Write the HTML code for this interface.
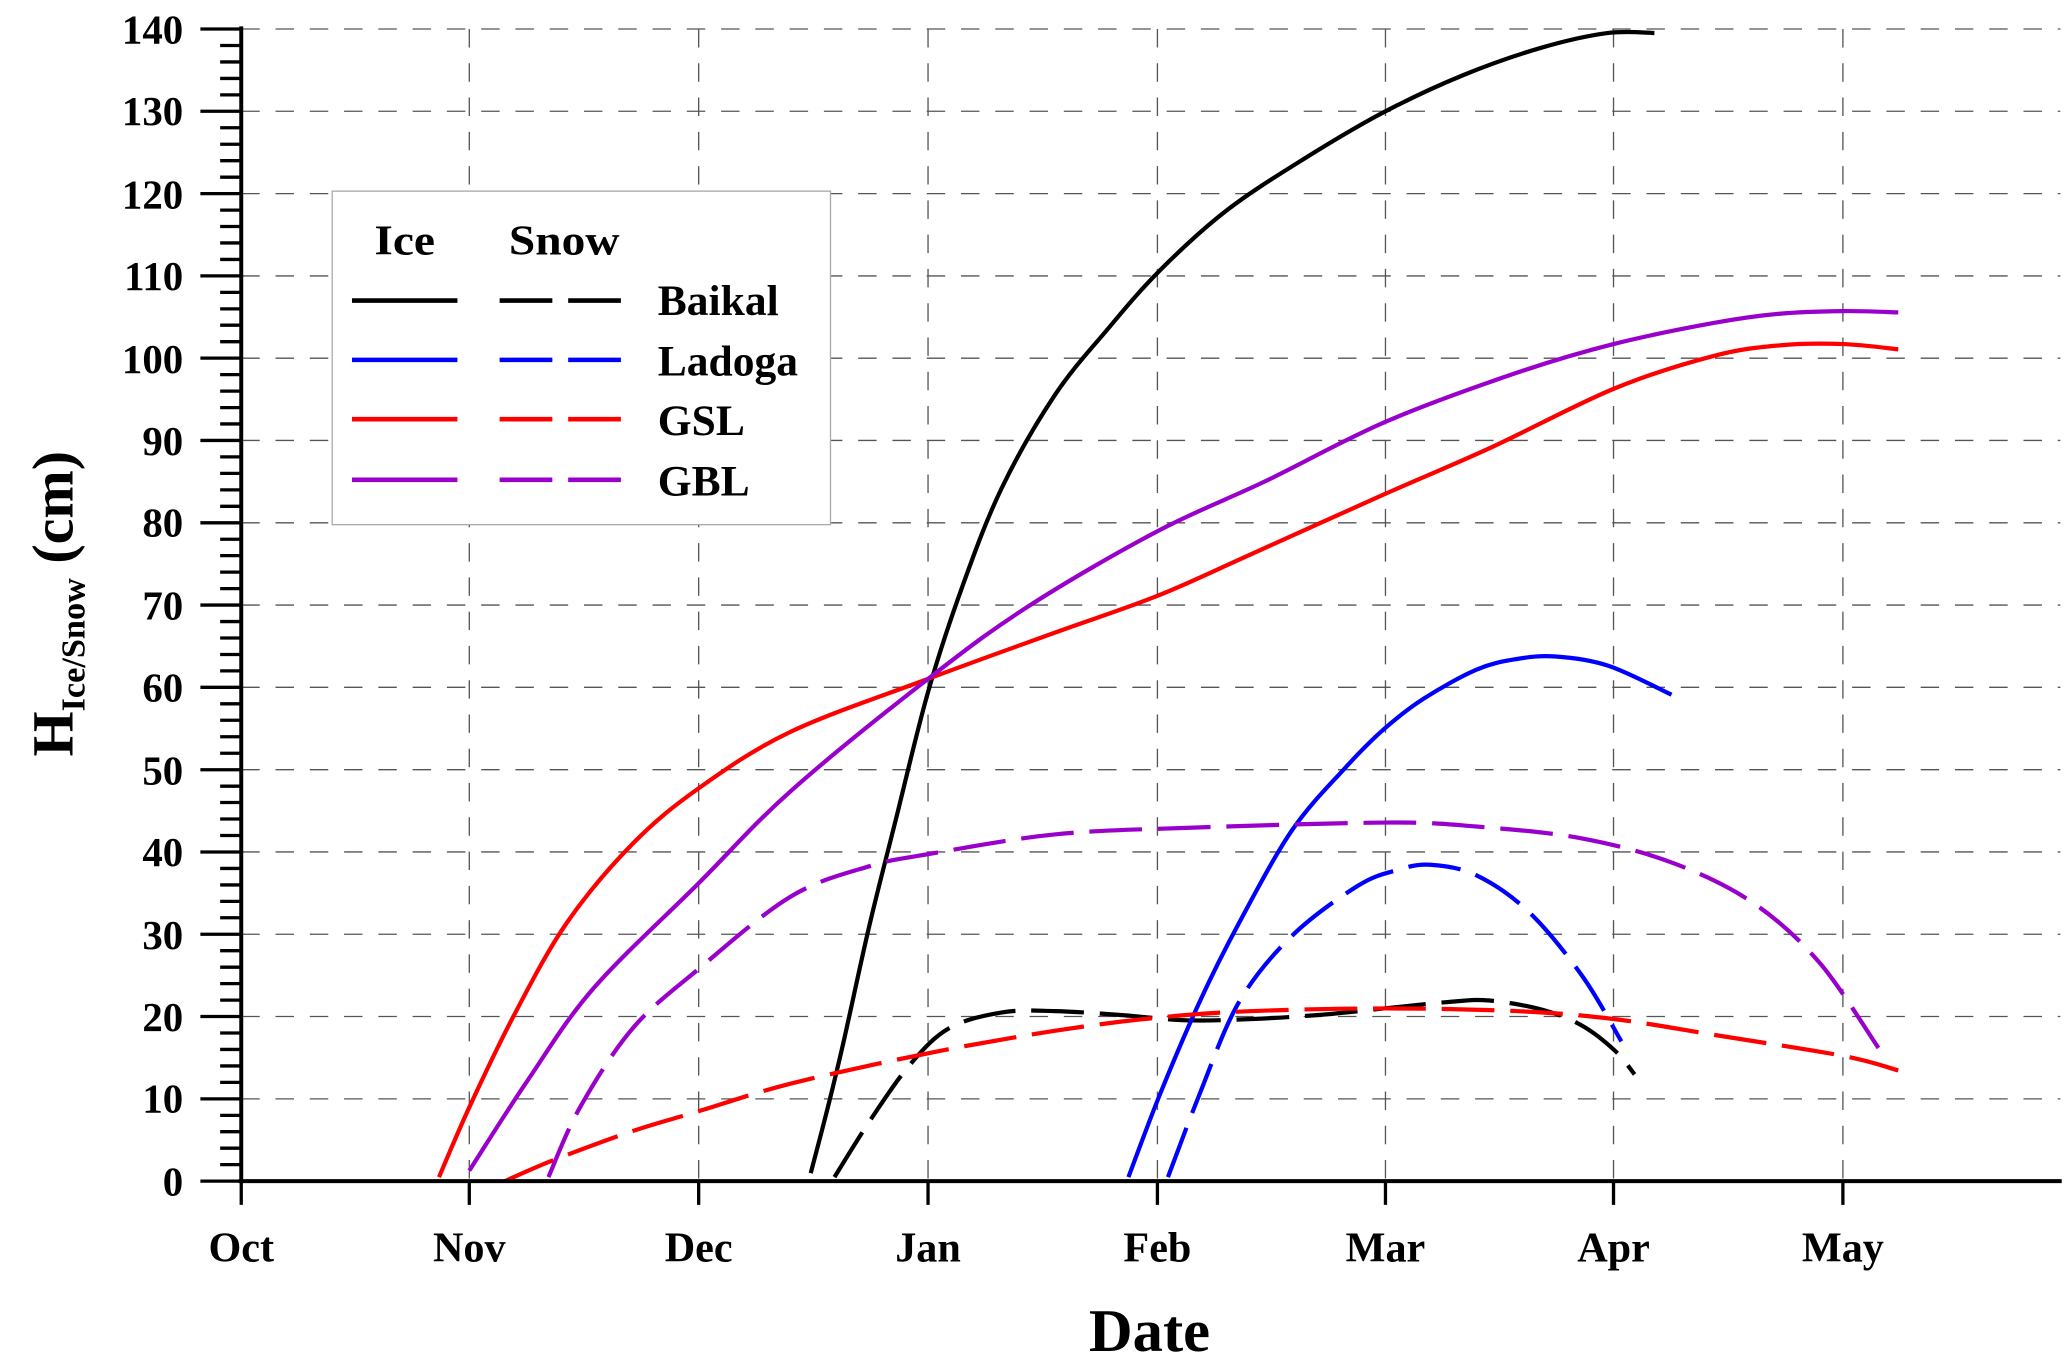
<!DOCTYPE html>
<html><head><meta charset="utf-8"><style>
html,body{margin:0;padding:0;background:#fff;}
svg{display:block;}
text{font-family:"Liberation Serif",serif;font-weight:bold;fill:#000;}
</style></head><body>
<svg id="s" width="2067" height="1367" viewBox="0 0 1568 1037" xmlns="http://www.w3.org/2000/svg">
<g stroke="#555" stroke-width="1" stroke-dasharray="14,12" fill="none">
<line x1="183" y1="22" x2="1563" y2="22"/><line x1="183" y1="84.4" x2="1563" y2="84.4"/>
<line x1="183" y1="146.9" x2="1563" y2="146.9"/><line x1="183" y1="209.3" x2="1563" y2="209.3"/>
<line x1="183" y1="271.7" x2="1563" y2="271.7"/><line x1="183" y1="334.1" x2="1563" y2="334.1"/>
<line x1="183" y1="396.6" x2="1563" y2="396.6"/><line x1="183" y1="459" x2="1563" y2="459"/>
<line x1="183" y1="521.4" x2="1563" y2="521.4"/><line x1="183" y1="583.9" x2="1563" y2="583.9"/>
<line x1="183" y1="646.3" x2="1563" y2="646.3"/><line x1="183" y1="708.7" x2="1563" y2="708.7"/>
<line x1="183" y1="771.1" x2="1563" y2="771.1"/><line x1="183" y1="833.6" x2="1563" y2="833.6"/>
<line x1="356" y1="22" x2="356" y2="896"/><line x1="530" y1="22" x2="530" y2="896"/>
<line x1="704" y1="22" x2="704" y2="896"/><line x1="878" y1="22" x2="878" y2="896"/>
<line x1="1051" y1="22" x2="1051" y2="896"/><line x1="1224" y1="22" x2="1224" y2="896"/>
<line x1="1398" y1="22" x2="1398" y2="896"/>
</g>
<!-- legend -->
<rect x="252" y="145" width="378" height="253" fill="#fff" stroke="#aaa" stroke-width="1"/>
<text x="307" y="193" font-size="32" text-anchor="middle" textLength="46" lengthAdjust="spacingAndGlyphs">Ice</text>
<text x="428" y="193" font-size="32" text-anchor="middle" textLength="84" lengthAdjust="spacingAndGlyphs">Snow</text>
<g stroke-width="3.5">
<line x1="267" y1="228" x2="347" y2="228" stroke="#000"/><line x1="379" y1="228" x2="471" y2="228" stroke="#000" stroke-dasharray="40,12"/>
<line x1="267" y1="273" x2="347" y2="273" stroke="#00f"/><line x1="379" y1="273" x2="471" y2="273" stroke="#00f" stroke-dasharray="40,12"/>
<line x1="267" y1="318" x2="347" y2="318" stroke="#f00"/><line x1="379" y1="318" x2="471" y2="318" stroke="#f00" stroke-dasharray="40,12"/>
<line x1="267" y1="364" x2="347" y2="364" stroke="#90c"/><line x1="379" y1="364" x2="471" y2="364" stroke="#90c" stroke-dasharray="40,12"/>
</g>
<text x="499" y="239" font-size="33">Baikal</text>
<text x="499" y="285" font-size="33">Ladoga</text>
<text x="499" y="330" font-size="33">GSL</text>
<text x="499" y="376" font-size="33">GBL</text>
<!-- curves -->
<g id="curves" fill="none" stroke-width="3.2" stroke-linejoin="round" stroke-linecap="butt">
<polyline stroke="#000" points="615,890 628,840 640,790 660,700 680,620 704,525 730,445 760,370 800,300 840,250 880,205 930,160 990,120 1050,85 1110,57 1170,36 1220,25 1255,25"/>
<polyline stroke="#000" stroke-dasharray="40,12" points="633,893 660,850 690,808 720,780 760,768 800,767 850,770 900,774 950,773 1000,770 1050,765 1100,760 1130,759 1170,766 1200,778 1225,797 1240,815"/>
<polyline stroke="#00f" points="856,893 880,830 910,760 940,700 980,630 1020,583 1050,553 1080,530 1120,508 1150,500 1180,498 1220,505 1268,527"/>
<polyline stroke="#00f" stroke-dasharray="40,12" points="886,893 910,830 940,760 980,710 1030,672 1060,660 1085,656 1120,664 1160,692 1200,740 1230,790"/>
<polyline stroke="#f00" points="333,893 356,840 390,770 430,700 480,640 530,598 600,555 704,515 800,480 878,452 950,420 1050,375 1130,340 1224,295 1300,270 1350,262 1398,261 1440,265"/>
<polyline stroke="#f00" stroke-dasharray="40,12" points="383,896 420,880 480,858 530,843 600,822 704,799 800,782 878,772 950,767 1051,765 1150,767 1224,773 1300,785 1398,801 1440,812"/>
<polyline stroke="#90c" points="356,888 400,820 450,750 530,670 600,600 704,515 780,460 878,403 960,365 1051,320 1150,283 1224,261 1300,245 1350,238 1398,236 1440,237"/>
<polyline stroke="#90c" stroke-dasharray="40,12" points="416,893 440,840 480,780 530,735 600,680 660,657 704,648 800,633 900,628 1051,624 1120,627 1200,636 1270,655 1330,685 1380,730 1425,795"/>
</g>
<!-- axes -->
<g stroke="#000">
<line x1="183" y1="20" x2="183" y2="897" stroke-width="3"/>
<line x1="181" y1="896" x2="1564" y2="896" stroke-width="3"/>
<g stroke-width="2.5">
<line x1="152" y1="22" x2="183" y2="22"/><line x1="152" y1="84.4" x2="183" y2="84.4"/>
<line x1="152" y1="146.9" x2="183" y2="146.9"/><line x1="152" y1="209.3" x2="183" y2="209.3"/>
<line x1="152" y1="271.7" x2="183" y2="271.7"/><line x1="152" y1="334.1" x2="183" y2="334.1"/>
<line x1="152" y1="396.6" x2="183" y2="396.6"/><line x1="152" y1="459" x2="183" y2="459"/>
<line x1="152" y1="521.4" x2="183" y2="521.4"/><line x1="152" y1="583.9" x2="183" y2="583.9"/>
<line x1="152" y1="646.3" x2="183" y2="646.3"/><line x1="152" y1="708.7" x2="183" y2="708.7"/>
<line x1="152" y1="771.1" x2="183" y2="771.1"/><line x1="152" y1="833.6" x2="183" y2="833.6"/>
<line x1="152" y1="896" x2="183" y2="896"/>
</g>
<path stroke-width="2.5" d="M167 34.5h16M167 47h16M167 59.5h16M167 72h16M167 96.9h16M167 109.4h16M167 121.9h16M167 134.4h16M167 159.4h16M167 171.8h16M167 184.3h16M167 196.8h16M167 221.8h16M167 234.3h16M167 246.7h16M167 259.2h16M167 284.2h16M167 296.7h16M167 309.2h16M167 321.6h16M167 346.6h16M167 359.1h16M167 371.6h16M167 384.1h16M167 409.1h16M167 421.5h16M167 434h16M167 446.5h16M167 471.5h16M167 484h16M167 496.5h16M167 508.9h16M167 533.9h16M167 546.4h16M167 558.9h16M167 571.4h16M167 596.4h16M167 608.8h16M167 621.3h16M167 633.8h16M167 658.8h16M167 671.3h16M167 683.8h16M167 696.2h16M167 721.2h16M167 733.7h16M167 746.2h16M167 758.7h16M167 783.6h16M167 796.1h16M167 808.6h16M167 821.1h16M167 846.1h16M167 858.5h16M167 871h16M167 883.5h16"/>
<path stroke-width="2.5" d="M183 896v18M356 896v18M530 896v18M704 896v18M878 896v18M1051 896v18M1224 896v18M1398 896v18"/>
</g>
<g font-size="31" text-anchor="end">
<text x="139" y="33">140</text><text x="139" y="95">130</text><text x="139" y="158">120</text>
<text x="139" y="220">110</text><text x="139" y="283">100</text><text x="139" y="345">90</text>
<text x="139" y="407">80</text><text x="139" y="470">70</text><text x="139" y="532">60</text>
<text x="139" y="595">50</text><text x="139" y="657">40</text><text x="139" y="720">30</text>
<text x="139" y="782">20</text><text x="139" y="844">10</text><text x="139" y="907">0</text>
</g>
<g font-size="32" text-anchor="middle">
<text x="183" y="957">Oct</text><text x="356" y="957">Nov</text><text x="530" y="957">Dec</text>
<text x="704" y="957">Jan</text><text x="878" y="957">Feb</text><text x="1051" y="957">Mar</text>
<text x="1224" y="957">Apr</text><text x="1398" y="957">May</text>
</g>
<text x="872" y="1025" font-size="46" text-anchor="middle">Date</text>
<text transform="translate(55,458) rotate(-90)" font-size="44" text-anchor="middle">H<tspan font-size="26" dy="9">Ice/Snow</tspan><tspan dy="-9"> (cm)</tspan></text>
</svg>
<script>
(function(){
var ns="http://www.w3.org/2000/svg";
var pls=document.querySelectorAll('#curves polyline');
for(var k=0;k<pls.length;k++){
 var pl=pls[k];
 var p=pl.getAttribute('points').trim().split(/\s+/).map(function(s){return s.split(',').map(Number);});
 var d='M'+p[0][0]+','+p[0][1];
 for(var i=0;i<p.length-1;i++){
  var p0=p[i-1]||p[i],p1=p[i],p2=p[i+1],p3=p[i+2]||p[i+1];
  var c1x=p1[0]+(p2[0]-p0[0])/6,c1y=p1[1]+(p2[1]-p0[1])/6;
  var c2x=p2[0]-(p3[0]-p1[0])/6,c2y=p2[1]-(p3[1]-p1[1])/6;
  d+=' C'+c1x.toFixed(1)+','+c1y.toFixed(1)+' '+c2x.toFixed(1)+','+c2y.toFixed(1)+' '+p2[0]+','+p2[1];
 }
 var path=document.createElementNS(ns,'path');
 path.setAttribute('d',d);
 path.setAttribute('stroke',pl.getAttribute('stroke'));
 if(pl.getAttribute('stroke-dasharray'))path.setAttribute('stroke-dasharray',pl.getAttribute('stroke-dasharray'));
 pl.parentNode.replaceChild(path,pl);
}
})();
</script>
</body></html>
